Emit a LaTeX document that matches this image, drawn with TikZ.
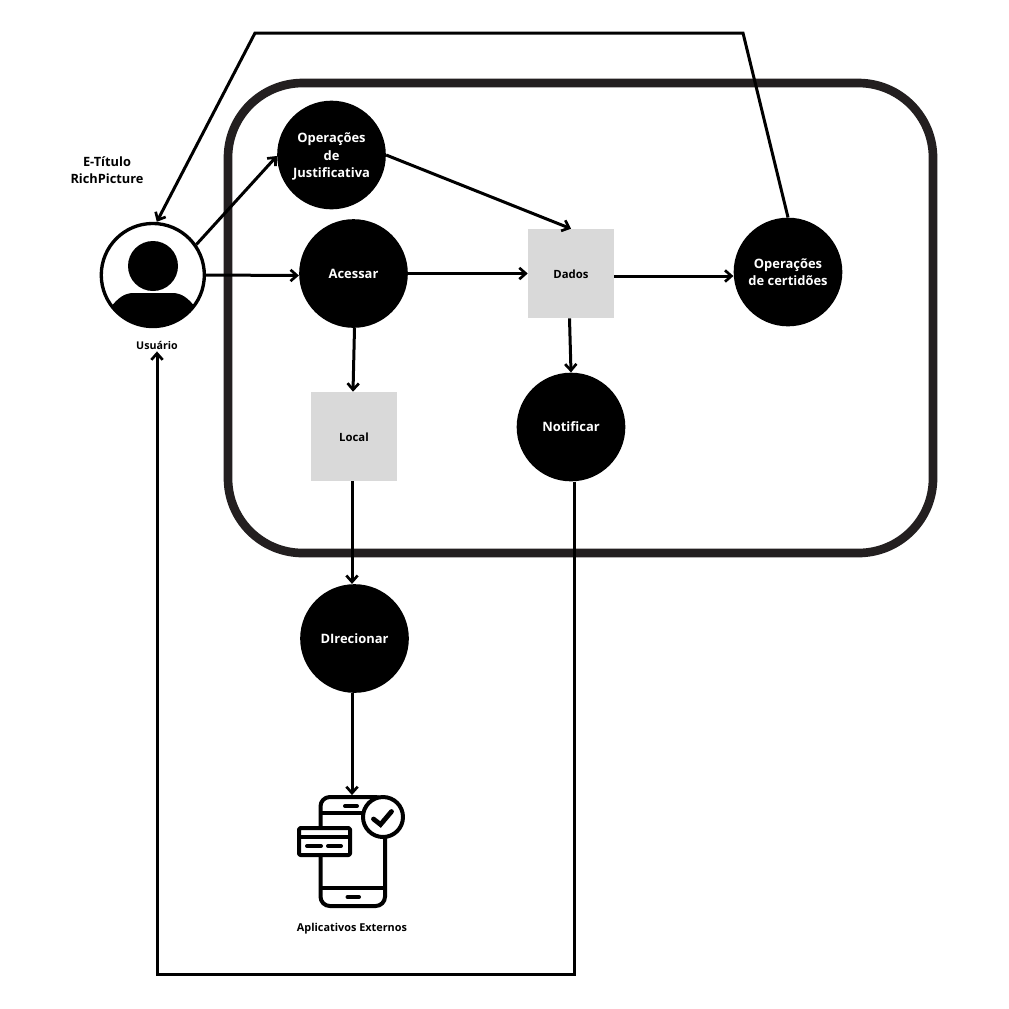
\documentclass[tikz,border=0pt]{standalone}
\usepackage{fontspec}
\setmainfont{Open Sans}
\usetikzlibrary{arrows.meta,calc}
\definecolor{framegray}{HTML}{231F20}
\definecolor{boxgray}{HTML}{D9D9D9}
\tikzset{
  x=0.75pt, y=-0.75pt,
  action/.style={circle, fill=black, text=white, minimum size=81.5pt, inner sep=0pt,
    align=center, font=\bfseries\fontsize{9.7}{13.1}\selectfont},
  store/.style={rectangle, fill=boxgray, text=black, minimum width=64.5pt, minimum height=66.8pt,
    inner sep=0pt, text height=8pt, text depth=0.6pt, font=\bfseries\fontsize{8.5}{10}\selectfont},
  caption/.style={align=center, text=black, inner sep=0pt, font=\bfseries\fontsize{8.15}{13}\selectfont},
  link/.style={line width=2.25pt, draw=black, -{Straight Barb[length=4.8pt,width=8.5pt,line width=2pt]}},
  iconline/.style={line width=3pt, draw=black, line cap=round, line join=round},
}
\begin{document}
\begin{tikzpicture}
\useasboundingbox (0,0) rectangle (1009,1008);
\fill[white] (0,0) rectangle (1009,1008);

% system boundary
\draw[draw=framegray, line width=6.5pt, rounded corners=56pt] (228,83) rectangle (933,553);

% processes and data stores
\node[action] (just) at (331.5,155) {\rule{0pt}{10pt}Operações\\de\\Justificativa};
\node[action] (acessar) at (353.5,273.5) {Acessar};
\node[store]  (dados) at (571,273.5) {Dados};
\node[action] (cert) at (788,272) {Operações\\de certidões};
\node[store]  (local) at (354,436.5) {Local};
\node[action] (notif) at (571,427) {Notificar};
\node[action] (dir) at (354.5,638.5) {DIrecionar};

% user avatar
\node[circle, draw=black, line width=2.5pt, fill=white, minimum size=77.3pt, inner sep=0pt] (user) at (152.8,275) {};
\begin{scope}
  \clip (152.8,275) circle (52);
  \fill[black] (110,308) .. controls (118,298) and (124,293) .. (134,293)
    -- (172,293) .. controls (182,293) and (188,298) .. (196,308) -- (196,330) -- (110,330) -- cycle;
\end{scope}
\fill[black] (153,266) circle (25);
\node[caption] (userlabel) at (157,345) {\fontsize{8}{10}\selectfont Usuário};
\node[caption, font=\bfseries\fontsize{9.6}{13.2}\selectfont] (title) at (107,170.2) {E-Título\\RichPicture};

% external apps icon
\node[inner sep=0pt, minimum width=1pt, minimum height=1pt] (phone) at (352,796) {};
\draw[iconline, fill=white, rounded corners=7pt] (320.5,797) rectangle (385,906);
\draw[iconline, line cap=butt] (320.5,812.5) -- (385,812.5);
\draw[iconline, line cap=butt] (320.5,888) -- (385,888);
\draw[iconline] (345,806) -- (357,806);
\draw[iconline] (347.5,897) -- (359,897);
\draw[iconline, fill=white] (383,817) circle (20);
\draw[line width=3.6pt, line cap=round, line join=miter] (373.5,819) -- (380.5,824.5) -- (391.5,811.5);
\draw[iconline, fill=white, rounded corners=1pt] (299,828) rectangle (350,855);
\draw[iconline, line cap=butt] (299,837) -- (350,837);
\draw[iconline] (307,846) -- (321,846);
\draw[iconline] (328,846) -- (341,846);
\node[caption] (applabel) at (352,926.5) {\rule{0pt}{9.5pt}Aplicativos Externos};

% free corners of the long return lines
\coordinate (certturn) at (743,33);
\coordinate (userturn) at (255,33);
\coordinate (bottomright) at (574,974);
\coordinate (bottomleft) at (157,974);

% connectors
\draw[link] (user.35) -- (just.west |- 0,156);
\draw[link] (user.east) -- ($(acessar.west)+(0,2)$);
\draw[link] (just.east) -- (dados.north);
\draw[link] (acessar.east) -- (dados.west);
\draw[link] ($(dados.east)+(0,2.5)$) -- ($(cert.west)+(0,4)$);
\draw[link] ($(dados.south)+(-1.5,0)$) -- (notif.north);
\draw[link] ($(acessar.south)+(1,0)$) -- ($(local.north)+(-1,0)$);
\draw[link] ($(local.south)+(-2,0)$) -- ($(dir.north)+(-2.5,0)$);
\draw[link] ($(dir.south)+(-2.5,0)$) -- (phone);
\draw[link, line join=miter] (cert.north) -- (certturn) -- (userturn) -- ($(user.north)+(4,0)$);
\draw[link, line join=miter] ($(notif.south)+(3,0)$) -- (bottomright) -- (bottomleft) -- ($(userlabel.south)+(0,2)$);
\end{tikzpicture}
\end{document}
